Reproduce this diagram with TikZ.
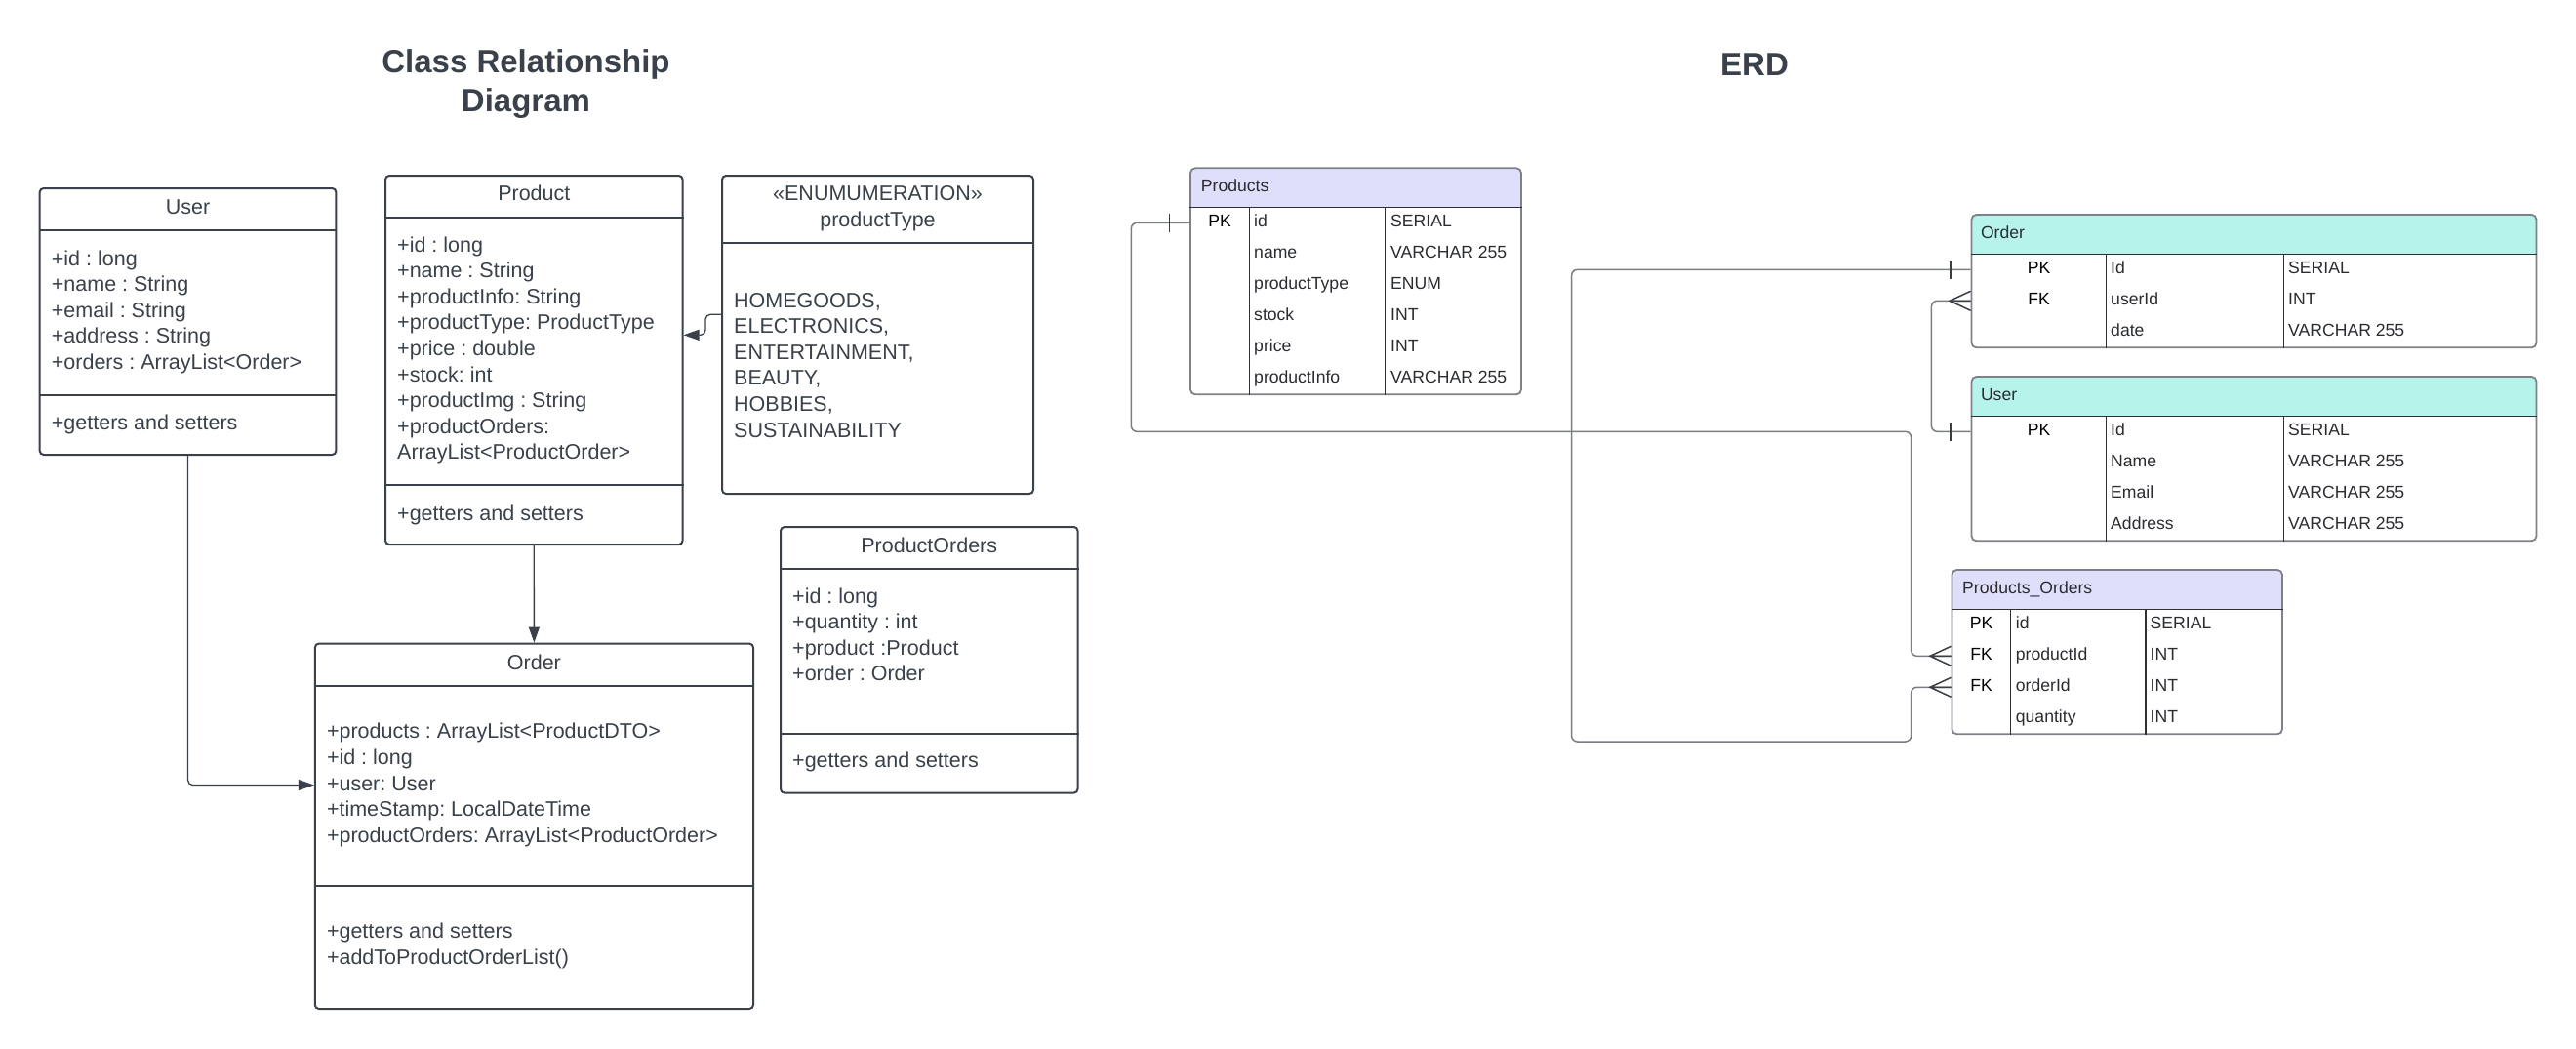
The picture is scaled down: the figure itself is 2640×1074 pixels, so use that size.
\documentclass[tikz,border=0pt]{standalone}
\usepackage{fontspec}
\setmainfont{Liberation Sans}
\usetikzlibrary{arrows.meta,calc}
\frenchspacing
\definecolor{ink}{HTML}{3A414A}
\definecolor{erdtext}{HTML}{2A2C30}
\definecolor{erdborder}{HTML}{7E8187}
\definecolor{erdinner}{HTML}{2E3036}
\definecolor{conn}{HTML}{7A7D84}
\definecolor{markc}{HTML}{3A3D44}
\definecolor{lav}{HTML}{DFDFFC}
\definecolor{mint}{HTML}{B6F3EB}
\tikzset{
  clsbox/.style={draw=ink, line width=2pt, rounded corners=4pt, inner sep=0pt},
  cline/.style={draw=ink, line width=2pt},
  ctext/.style={anchor=west, inner sep=0pt, text=ink, font=\fontsize{21.5}{26}\selectfont, text height=15.5pt, text depth=4.5pt},
  ctitle/.style={inner sep=0pt, text=ink, font=\fontsize{21.5}{26}\selectfont, text height=15.5pt, text depth=4.5pt},
  carrow/.style={draw=ink, line width=1.3pt, -{Triangle[length=16pt,width=11pt]}, rounded corners=5pt},
  bigtitle/.style={inner sep=0pt, text=ink, font=\fontsize{33}{40}\selectfont\bfseries, align=center},
  erdbox/.style={draw=erdborder, line width=1.8pt, rounded corners=5pt, inner sep=0pt},
  erdline/.style={draw=erdinner, line width=1.4pt},
  etext/.style={anchor=west, inner sep=0pt, text=erdtext, font=\fontsize{17.6}{21}\selectfont, text height=12.5pt, text depth=3.5pt},
  ekey/.style={inner sep=0pt, text=black, font=\fontsize{17.6}{21}\selectfont, text height=12.5pt, text depth=3.5pt},
  ehead/.style={anchor=west, inner sep=0pt, text=erdtext, font=\fontsize{17.6}{21}\selectfont, text height=12.5pt, text depth=3.5pt},
  econn/.style={draw=conn, line width=1.5pt, rounded corners=6pt},
  emark/.style={draw=markc, line width=1.5pt},
  pics/erdtick/.style={code={\draw[emark] (-20.5,-9.5) -- (-20.5,9.5);}},
  pics/erdcrow/.style={code={\draw[emark] (0,-10) -- (-21.5,0) -- (0,10) (-21.5,0) -- (0,0);}}
}
\begin{document}
\begin{tikzpicture}[x=1pt,y=-1pt]
\fill[white] (0,0) rectangle (2640,1074);
\useasboundingbox (0,0) rectangle (2640,1074);

% ---------- titles ----------
\node[bigtitle] (t1) at (539,86) {Class Relationship\\Diagram};
\node[bigtitle] (t2) at (1798,66) {ERD};

% ---------- User class ----------
\node[clsbox, minimum width=303.7pt, minimum height=273pt] (user) at (192.55,329.5) {};
\draw[cline] (user.west |- 0,236) -- (user.east |- 0,236);
\draw[cline] (user.west |- 0,405) -- (user.east |- 0,405);
\node[ctitle] (userT) at (192.55,214) {User};
\foreach \t [count=\i from 0] in {{+id : long},{+name : String},{+email : String},{+address : String},{+orders : ArrayList<Order>}}
  \node[ctext] (userA\i) at (52.7,266.6+26.6*\i) {\t};
\node[ctext] (userM) at (52.7,434.6) {+getters and setters};

% ---------- Product class ----------
\node[clsbox, minimum width=304.6pt, minimum height=378pt] (product) at (547.3,369) {};
\draw[cline] (product.west |- 0,223) -- (product.east |- 0,223);
\draw[cline] (product.west |- 0,497) -- (product.east |- 0,497);
\node[ctitle] (productT) at (547.3,199.6) {Product};
\foreach \t [count=\i from 0] in {{+id : long},{+name : String},{+productInfo: String},{+productType: ProductType},{+price : double},{+stock: int},{+productImg : String},{+productOrders:},{ArrayList<ProductOrder>}}
  \node[ctext] (productA\i) at (407,252.6+26.6*\i) {\t};
\node[ctext] (productM) at (407,527.6) {+getters and setters};

% ---------- Enumeration ----------
\node[clsbox, minimum width=319pt, minimum height=326pt] (enum) at (899.5,343) {};
\draw[cline] (enum.west |- 0,248.6) -- (enum.east |- 0,248.6);
\node[ctitle] (enumT1) at (899.5,200.2) {«ENUMUMERATION»};
\node[ctitle] (enumT2) at (899.5,227.3) {productType};
\foreach \t [count=\i from 0] in {{HOMEGOODS,},{ELECTRONICS,},{ENTERTAINMENT,},{BEAUTY,},{HOBBIES,},{SUSTAINABILITY}}
  \node[ctext] (enumA\i) at (752,309.6+26.6*\i) {\t};

% ---------- Order class ----------
\node[clsbox, minimum width=449.2pt, minimum height=374.4pt] (order) at (547.4,846.8) {};
\draw[cline] (order.west |- 0,703) -- (order.east |- 0,703);
\draw[cline] (order.west |- 0,907.6) -- (order.east |- 0,907.6);
\node[ctitle] (orderT) at (547.4,680.6) {Order};
\node[ctext] (orderA0) at (334.8,751.3) {+products : ArrayList<ProductDTO>};
\node[ctext] (orderA1) at (334.8,777.9) {+id : long};
\node[ctext] (ouser) at (334.8,804.5) {+user: User};
\node[ctext] (orderA3) at (334.8,831.1) {+timeStamp: LocalDateTime};
\node[ctext] (orderA4) at (334.8,857.7) {+productOrders: ArrayList<ProductOrder>};
\node[ctext] (orderM0) at (334.8,956.2) {+getters and setters};
\node[ctext] (orderM1) at (334.8,982.8) {+addToProductOrderList()};

% ---------- ProductOrders class ----------
\node[clsbox, minimum width=304.5pt, minimum height=272.6pt] (porders) at (952.25,676.3) {};
\draw[cline] (porders.west |- 0,583) -- (porders.east |- 0,583);
\draw[cline] (porders.west |- 0,751.5) -- (porders.east |- 0,751.5);
\node[ctitle] (pordersT) at (952.25,560.6) {ProductOrders};
\foreach \t [count=\i from 0] in {{+id : long},{+quantity : int},{+product :Product},{+order : Order}}
  \node[ctext] (pordersA\i) at (812,612.6+26.6*\i) {\t};
\node[ctext] (pordersM) at (812,781.3) {+getters and setters};

% ---------- class connectors ----------
\coordinate (ebend) at (723,343.3);
\draw[carrow] (enum.west |- 0,322.3) -| (ebend) -- (product.east |- ebend);
\draw[carrow] (product.south) -- (order.north);
\draw[carrow] (user.south) |- (order.west |- ouser);

% ================= ERD =================
% Products table
\fill[lav, rounded corners=5pt] (1220,172.3) rectangle (1559,225);
\fill[white] (1220,212.3) rectangle (1559,226);
\node[erdbox, minimum width=339pt, minimum height=232pt] (prod) at (1389.5,288.3) {};
\draw[erdline] (prod.west |- 0,212.3) -- (prod.east |- 0,212.3);
\draw[erdline] (1280.3,212.3) -- (1280.3,0 |- prod.south);
\draw[erdline] (1419.3,212.3) -- (1419.3,0 |- prod.south);
\node[ehead] (prodT) at (1230.7,192.3) {Products};
\node[ekey] (prodPK) at (1250,228.3) {PK};
\foreach \n/\t [count=\i from 0] in {id/SERIAL,name/VARCHAR 255,productType/ENUM,stock/INT,price/INT,productInfo/VARCHAR 255}{
  \node[etext] (prodN\i) at (1285,227.8+32*\i) {\n};
  \node[etext] (prodY\i) at (1425,227.8+32*\i) {\t};
}

% Order table
\fill[mint, rounded corners=5pt] (2020.5,220) rectangle (2599.5,272);
\fill[white] (2020.5,260.3) rectangle (2599.5,273);
\node[erdbox, minimum width=579pt, minimum height=136.3pt] (ord) at (2310,288.15) {};
\draw[erdline] (ord.west |- 0,260.3) -- (ord.east |- 0,260.3);
\draw[erdline] (2158.5,260.3) -- (2158.5,0 |- ord.south);
\draw[erdline] (2340.2,260.3) -- (2340.2,0 |- ord.south);
\node[ehead] (ordT) at (2029.8,240.1) {Order};
\node[ekey] (ordPK) at (2089.5,276.3) {PK};
\node[ekey] (ordFK) at (2089.5,308.3) {FK};
\foreach \n/\t [count=\i from 0] in {Id/SERIAL,userId/INT,date/VARCHAR 255}{
  \node[etext] (ordN\i) at (2163,275.8+32*\i) {\n};
  \node[etext] (ordY\i) at (2345,275.8+32*\i) {\t};
}

% User table
\fill[mint, rounded corners=5pt] (2020.5,386) rectangle (2599.5,438);
\fill[white] (2020.5,426.3) rectangle (2599.5,439);
\node[erdbox, minimum width=579pt, minimum height=168.3pt] (usr) at (2310,470.15) {};
\draw[erdline] (usr.west |- 0,426.3) -- (usr.east |- 0,426.3);
\draw[erdline] (2158.5,426.3) -- (2158.5,0 |- usr.south);
\draw[erdline] (2340.2,426.3) -- (2340.2,0 |- usr.south);
\node[ehead] (usrT) at (2029.8,406.1) {User};
\node[ekey] (usrPK) at (2089.5,442.3) {PK};
\foreach \n/\t [count=\i from 0] in {Id/SERIAL,Name/VARCHAR 255,Email/VARCHAR 255,Address/VARCHAR 255}{
  \node[etext] (usrN\i) at (2163,441.8+32*\i) {\n};
  \node[etext] (usrY\i) at (2345,441.8+32*\i) {\t};
}

% Products_Orders table
\fill[lav, rounded corners=5pt] (2000.4,584) rectangle (2339,636);
\fill[white] (2000.4,624.3) rectangle (2339,637);
\node[erdbox, minimum width=338.6pt, minimum height=168.3pt] (po) at (2169.7,668.15) {};
\draw[erdline] (po.west |- 0,624.3) -- (po.east |- 0,624.3);
\draw[erdline] (2060.6,624.3) -- (2060.6,0 |- po.south);
\draw[erdline] (2198.9,624.3) -- (2198.9,0 |- po.south);
\node[ehead] (poT) at (2011,604.1) {Products\_Orders};
\node[ekey] (poPK) at (2030.5,640.3) {PK};
\node[ekey] (poFK1) at (2030.5,672.3) {FK};
\node[ekey] (poFK2) at (2030.5,704.3) {FK};
\foreach \n/\t [count=\i from 0] in {id/SERIAL,productId/INT,orderId/INT,quantity/INT}{
  \node[etext] (poN\i) at (2065.7,639.8+32*\i) {\n};
  \node[etext] (poY\i) at (2203.5,639.8+32*\i) {\t};
}

% ---------- ERD connectors ----------
\coordinate (k1) at (1159.3,442.3);
\coordinate (k2) at (1958.6,672.3);
\coordinate (k3) at (1610.6,760);
\coordinate (k4) at (1958.6,704.3);
\coordinate (k5) at (1979.4,308.3);
\draw[econn] (prod.west |- prodPK) -| (k1) -| (k2) -- (po.west |- poFK1);
\draw[econn] (ord.west |- ordPK) -| (k3) -| (k4) -- (po.west |- poFK2);
\draw[econn] (usr.west |- usrPK) -| (k5) -- (ord.west |- ordFK);
\pic at (prod.west |- prodPK) {erdtick};
\pic at (ord.west |- ordPK) {erdtick};
\pic at (usr.west |- usrPK) {erdtick};
\pic at (ord.west |- ordFK) {erdcrow};
\pic at (po.west |- poFK1) {erdcrow};
\pic at (po.west |- poFK2) {erdcrow};
\end{tikzpicture}
\end{document}
